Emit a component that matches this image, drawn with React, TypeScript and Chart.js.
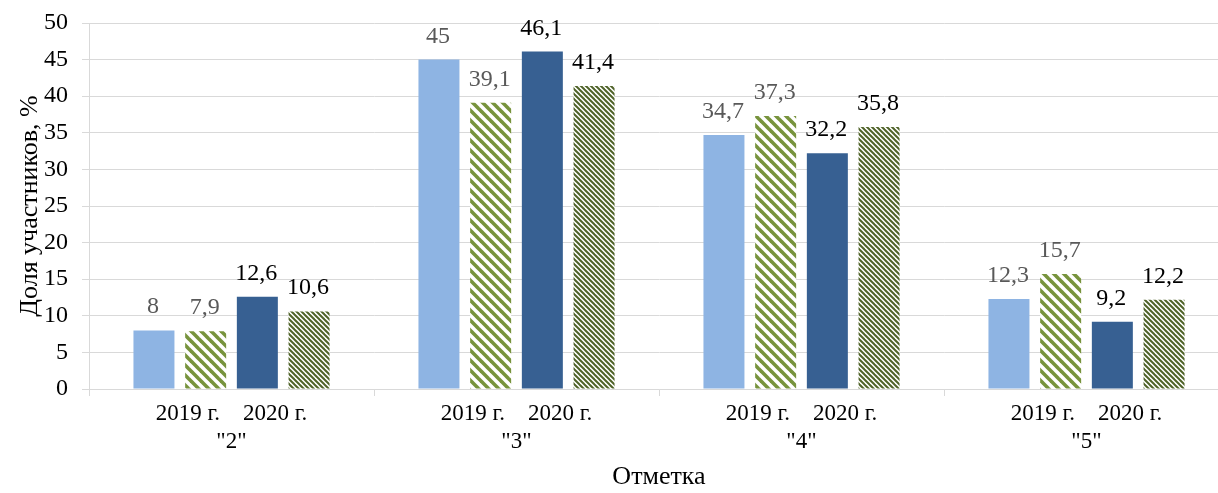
import React, { useEffect, useRef } from "react";
import { Chart, registerables } from "chart.js";

Chart.register(...registerables);

// ---- data ----
const groups: string[] = ['"2"', '"3"', '"4"', '"5"'];
const yearLabels: string[] = ["2019 г.", "2020 г."];
const seriesNames: string[] = ["2019 г. (1)", "2019 г. (2)", "2020 г. (1)", "2020 г. (2)"];
const series2019a: number[] = [8, 45, 34.7, 12.3];
const series2019b: number[] = [7.9, 39.1, 37.3, 15.7];
const series2020a: number[] = [12.6, 46.1, 32.2, 9.2];
const series2020b: number[] = [10.6, 41.4, 35.8, 12.2];
const yTicks: number[] = [0, 5, 10, 15, 20, 25, 30, 35, 40, 45, 50];
const xTitle = "Отметка";
const yTitle = "Доля участников, %";

const FONT = '"Times New Roman", "Liberation Serif", serif';

function stripePattern(period: number, width: number, color: string): CanvasPattern | string {
  const c = document.createElement("canvas");
  c.width = period;
  c.height = period;
  const g = c.getContext("2d");
  if (!g) return color;
  g.fillStyle = "#ffffff";
  g.fillRect(0, 0, period, period);
  g.strokeStyle = color;
  g.lineWidth = width;
  g.lineCap = "square";
  for (let k = -1; k <= 1; k++) {
    g.beginPath();
    g.moveTo(k * period - period, -period);
    g.lineTo(k * period + 2 * period, 2 * period);
    g.stroke();
  }
  const p = g.createPattern(c, "repeat");
  return p || color;
}

const fmt = (v: number) => String(v).replace(".", ",");

export default function App() {
  const ref = useRef<HTMLCanvasElement | null>(null);

  useEffect(() => {
    const canvas = ref.current;
    if (!canvas) return;

    const wide = stripePattern(10, 3.6, "#77933C");
    const dense = stripePattern(5, 2.0, "#4F6228");

    const labelColors = ["#595959", "#595959", "#000000", "#000000"];

    const valueLabels = {
      id: "valueLabels",
      afterDatasetsDraw(chart: any) {
        const ctx = chart.ctx as CanvasRenderingContext2D;
        chart.data.datasets.forEach((ds: any, i: number) => {
          const meta = chart.getDatasetMeta(i);
          meta.data.forEach((bar: any, j: number) => {
            const v = ds.data[j] as number;
            ctx.save();
            ctx.font = `24px ${FONT}`;
            ctx.fillStyle = labelColors[i];
            ctx.textAlign = "center";
            ctx.textBaseline = "alphabetic";
            ctx.fillText(fmt(v), bar.x - 1, bar.y - 17);
            ctx.restore();
          });
        });
      },
    };

    const yearLine = yearLabels.join("    ");
    const labels = groups.map((g) => [yearLine, g]);

    const chart = new Chart(canvas, {
      type: "bar",
      data: {
        labels,
        datasets: [
          { label: seriesNames[0], data: series2019a, backgroundColor: "#8EB4E3" },
          { label: seriesNames[1], data: series2019b, backgroundColor: wide as any },
          { label: seriesNames[2], data: series2020a, backgroundColor: "#376092" },
          { label: seriesNames[3], data: series2020b, backgroundColor: dense as any },
        ],
      },
      options: {
        responsive: false,
        animation: false,
        devicePixelRatio: 1,
        layout: { padding: { top: 23, right: 3, bottom: 0, left: 0 } },
        datasets: {
          bar: { categoryPercentage: 0.7256, barPercentage: 0.793, borderWidth: 0 },
        },
        plugins: {
          legend: { display: false },
          tooltip: { enabled: false },
          title: { display: false },
        },
        scales: {
          x: {
            grid: {
              drawOnChartArea: false,
              drawTicks: true,
              tickLength: 7,
              color: "#d9d9d9",
              offset: true,
            },
            border: { color: "#d9d9d9" },
            ticks: {
              font: { family: FONT, size: 23, lineHeight: 1.22 },
              color: "#000000",
              padding: 4,
              maxRotation: 0,
              autoSkip: false,
            },
            title: {
              display: true,
              text: xTitle,
              font: { family: FONT, size: 26, lineHeight: 1.2 },
              color: "#000000",
              padding: { top: 0, bottom: 0 },
            },
            afterFit: (s: any) => {
              s.height = 104;
            },
          },
          y: {
            min: 0,
            max: 50,
            afterBuildTicks: (s: any) => {
              s.ticks = yTicks.map((v) => ({ value: v }));
            },
            grid: { color: "#d9d9d9", tickLength: 7 },
            border: { color: "#d9d9d9" },
            ticks: {
              font: { family: FONT, size: 24 },
              color: "#000000",
              padding: 14,
              callback: (v: any) => String(v),
            },
            title: {
              display: true,
              text: yTitle,
              font: { family: FONT, size: 26, lineHeight: 1.2 },
              color: "#000000",
              padding: { top: 15, bottom: 0 },
            },
            afterFit: (s: any) => {
              s.width = 89;
              s.paddingTop = 0;
              s.paddingBottom = 0;
            },
          },
        },
      },
      plugins: [valueLabels],
    });

    return () => chart.destroy();
  }, []);

  return (
    <div
      style={{
        position: "absolute",
        left: 0,
        top: 0,
        width: 1218,
        height: 493,
        overflow: "hidden",
        background: "#ffffff",
      }}
    >
      <canvas ref={ref} width={1232} height={493} style={{ display: "block" }} />
    </div>
  );
}
